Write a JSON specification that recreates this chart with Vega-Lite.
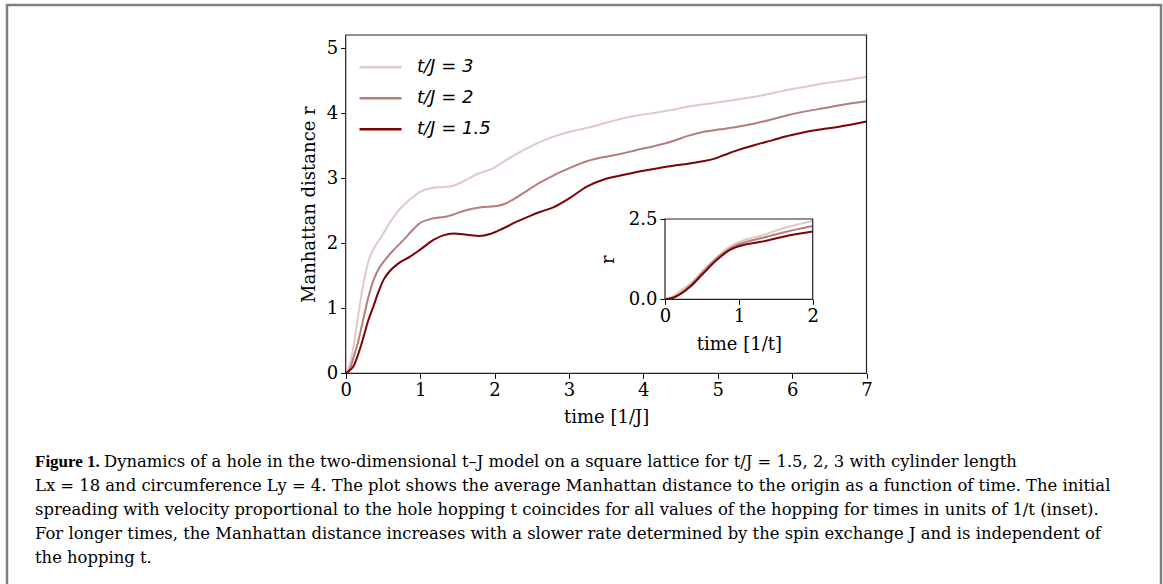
{
  "$schema": "https://vega.github.io/schema/vega-lite/v6.json",
  "width": 1163,
  "height": 584,
  "autosize": {"type": "none"},
  "padding": 0,
  "background": "white",
  "config": {
    "view": {"stroke": null},
    "axis": {
      "labelFont": "DejaVu Serif", "labelFontSize": 18, "labelColor": "black",
      "titleFont": "DejaVu Serif", "titleFontSize": 18, "titleFontWeight": "normal", "titleColor": "black",
      "tickColor": "black", "tickSize": 5, "tickWidth": 1, "domain": false, "grid": false, "labelPadding": 3,
      "labelFlush": false, "labelOverlap": false
    }
  },
  "datasets": {
    "main": [
      {"s": "t/J = 3", "t": 0, "r": 0}, {"s": "t/J = 3", "t": 0.05, "r": 0.12}, {"s": "t/J = 3", "t": 0.1, "r": 0.38}, {"s": "t/J = 3", "t": 0.15, "r": 0.75}, {"s": "t/J = 3", "t": 0.2, "r": 1.12}, {"s": "t/J = 3", "t": 0.25, "r": 1.45}, {"s": "t/J = 3", "t": 0.3, "r": 1.7}, {"s": "t/J = 3", "t": 0.37, "r": 1.9}, {"s": "t/J = 3", "t": 0.48, "r": 2.1}, {"s": "t/J = 3", "t": 0.6, "r": 2.33}, {"s": "t/J = 3", "t": 0.71, "r": 2.5}, {"s": "t/J = 3", "t": 0.86, "r": 2.67}, {"s": "t/J = 3", "t": 1, "r": 2.79}, {"s": "t/J = 3", "t": 1.13, "r": 2.84}, {"s": "t/J = 3", "t": 1.25, "r": 2.86}, {"s": "t/J = 3", "t": 1.4, "r": 2.87}, {"s": "t/J = 3", "t": 1.58, "r": 2.95}, {"s": "t/J = 3", "t": 1.76, "r": 3.06}, {"s": "t/J = 3", "t": 1.98, "r": 3.15}, {"s": "t/J = 3", "t": 2.16, "r": 3.28}, {"s": "t/J = 3", "t": 2.39, "r": 3.43}, {"s": "t/J = 3", "t": 2.6, "r": 3.55}, {"s": "t/J = 3", "t": 2.8, "r": 3.64}, {"s": "t/J = 3", "t": 3, "r": 3.71}, {"s": "t/J = 3", "t": 3.24, "r": 3.77}, {"s": "t/J = 3", "t": 3.5, "r": 3.85}, {"s": "t/J = 3", "t": 3.69, "r": 3.91}, {"s": "t/J = 3", "t": 3.9, "r": 3.96}, {"s": "t/J = 3", "t": 4.14, "r": 4.0}, {"s": "t/J = 3", "t": 4.4, "r": 4.05}, {"s": "t/J = 3", "t": 4.6, "r": 4.1}, {"s": "t/J = 3", "t": 4.85, "r": 4.14}, {"s": "t/J = 3", "t": 5.04, "r": 4.17}, {"s": "t/J = 3", "t": 5.27, "r": 4.21}, {"s": "t/J = 3", "t": 5.5, "r": 4.25}, {"s": "t/J = 3", "t": 5.75, "r": 4.31}, {"s": "t/J = 3", "t": 5.95, "r": 4.36}, {"s": "t/J = 3", "t": 6.2, "r": 4.41}, {"s": "t/J = 3", "t": 6.4, "r": 4.45}, {"s": "t/J = 3", "t": 6.7, "r": 4.5}, {"s": "t/J = 3", "t": 7, "r": 4.56},
      {"s": "t/J = 2", "t": 0, "r": 0}, {"s": "t/J = 2", "t": 0.05, "r": 0.05}, {"s": "t/J = 2", "t": 0.1, "r": 0.22}, {"s": "t/J = 2", "t": 0.17, "r": 0.5}, {"s": "t/J = 2", "t": 0.25, "r": 0.9}, {"s": "t/J = 2", "t": 0.3, "r": 1.15}, {"s": "t/J = 2", "t": 0.37, "r": 1.42}, {"s": "t/J = 2", "t": 0.44, "r": 1.6}, {"s": "t/J = 2", "t": 0.5, "r": 1.7}, {"s": "t/J = 2", "t": 0.64, "r": 1.89}, {"s": "t/J = 2", "t": 0.77, "r": 2.04}, {"s": "t/J = 2", "t": 0.89, "r": 2.19}, {"s": "t/J = 2", "t": 1, "r": 2.31}, {"s": "t/J = 2", "t": 1.13, "r": 2.37}, {"s": "t/J = 2", "t": 1.36, "r": 2.41}, {"s": "t/J = 2", "t": 1.63, "r": 2.51}, {"s": "t/J = 2", "t": 1.8, "r": 2.55}, {"s": "t/J = 2", "t": 2.03, "r": 2.57}, {"s": "t/J = 2", "t": 2.15, "r": 2.61}, {"s": "t/J = 2", "t": 2.25, "r": 2.67}, {"s": "t/J = 2", "t": 2.48, "r": 2.84}, {"s": "t/J = 2", "t": 2.61, "r": 2.93}, {"s": "t/J = 2", "t": 2.79, "r": 3.04}, {"s": "t/J = 2", "t": 3, "r": 3.15}, {"s": "t/J = 2", "t": 3.24, "r": 3.26}, {"s": "t/J = 2", "t": 3.45, "r": 3.32}, {"s": "t/J = 2", "t": 3.69, "r": 3.37}, {"s": "t/J = 2", "t": 3.9, "r": 3.43}, {"s": "t/J = 2", "t": 4.14, "r": 3.49}, {"s": "t/J = 2", "t": 4.4, "r": 3.57}, {"s": "t/J = 2", "t": 4.6, "r": 3.65}, {"s": "t/J = 2", "t": 4.8, "r": 3.71}, {"s": "t/J = 2", "t": 5.04, "r": 3.75}, {"s": "t/J = 2", "t": 5.27, "r": 3.79}, {"s": "t/J = 2", "t": 5.5, "r": 3.84}, {"s": "t/J = 2", "t": 5.75, "r": 3.91}, {"s": "t/J = 2", "t": 5.95, "r": 3.97}, {"s": "t/J = 2", "t": 6.2, "r": 4.03}, {"s": "t/J = 2", "t": 6.4, "r": 4.07}, {"s": "t/J = 2", "t": 6.7, "r": 4.13}, {"s": "t/J = 2", "t": 7, "r": 4.18},
      {"s": "t/J = 1.5", "t": 0, "r": 0}, {"s": "t/J = 1.5", "t": 0.05, "r": 0.04}, {"s": "t/J = 1.5", "t": 0.1, "r": 0.1}, {"s": "t/J = 1.5", "t": 0.17, "r": 0.3}, {"s": "t/J = 1.5", "t": 0.24, "r": 0.56}, {"s": "t/J = 1.5", "t": 0.3, "r": 0.8}, {"s": "t/J = 1.5", "t": 0.37, "r": 1.02}, {"s": "t/J = 1.5", "t": 0.44, "r": 1.25}, {"s": "t/J = 1.5", "t": 0.51, "r": 1.44}, {"s": "t/J = 1.5", "t": 0.6, "r": 1.58}, {"s": "t/J = 1.5", "t": 0.71, "r": 1.69}, {"s": "t/J = 1.5", "t": 0.86, "r": 1.79}, {"s": "t/J = 1.5", "t": 1, "r": 1.9}, {"s": "t/J = 1.5", "t": 1.18, "r": 2.05}, {"s": "t/J = 1.5", "t": 1.31, "r": 2.12}, {"s": "t/J = 1.5", "t": 1.45, "r": 2.15}, {"s": "t/J = 1.5", "t": 1.63, "r": 2.13}, {"s": "t/J = 1.5", "t": 1.8, "r": 2.11}, {"s": "t/J = 1.5", "t": 1.94, "r": 2.14}, {"s": "t/J = 1.5", "t": 2.12, "r": 2.23}, {"s": "t/J = 1.5", "t": 2.3, "r": 2.33}, {"s": "t/J = 1.5", "t": 2.48, "r": 2.42}, {"s": "t/J = 1.5", "t": 2.61, "r": 2.48}, {"s": "t/J = 1.5", "t": 2.79, "r": 2.55}, {"s": "t/J = 1.5", "t": 3.02, "r": 2.7}, {"s": "t/J = 1.5", "t": 3.24, "r": 2.87}, {"s": "t/J = 1.5", "t": 3.47, "r": 2.98}, {"s": "t/J = 1.5", "t": 3.69, "r": 3.04}, {"s": "t/J = 1.5", "t": 3.9, "r": 3.09}, {"s": "t/J = 1.5", "t": 4.14, "r": 3.14}, {"s": "t/J = 1.5", "t": 4.4, "r": 3.19}, {"s": "t/J = 1.5", "t": 4.6, "r": 3.22}, {"s": "t/J = 1.5", "t": 4.8, "r": 3.26}, {"s": "t/J = 1.5", "t": 4.96, "r": 3.3}, {"s": "t/J = 1.5", "t": 5.1, "r": 3.36}, {"s": "t/J = 1.5", "t": 5.27, "r": 3.43}, {"s": "t/J = 1.5", "t": 5.5, "r": 3.51}, {"s": "t/J = 1.5", "t": 5.73, "r": 3.58}, {"s": "t/J = 1.5", "t": 5.95, "r": 3.65}, {"s": "t/J = 1.5", "t": 6.18, "r": 3.71}, {"s": "t/J = 1.5", "t": 6.4, "r": 3.75}, {"s": "t/J = 1.5", "t": 6.63, "r": 3.79}, {"s": "t/J = 1.5", "t": 7, "r": 3.87}
    ],
    "inset": [
      {"s": "t/J = 3", "t": 0, "r": 0}, {"s": "t/J = 3", "t": 0.1, "r": 0.08}, {"s": "t/J = 3", "t": 0.2, "r": 0.25}, {"s": "t/J = 3", "t": 0.34, "r": 0.48}, {"s": "t/J = 3", "t": 0.52, "r": 0.91}, {"s": "t/J = 3", "t": 0.7, "r": 1.31}, {"s": "t/J = 3", "t": 0.88, "r": 1.65}, {"s": "t/J = 3", "t": 1.06, "r": 1.83}, {"s": "t/J = 3", "t": 1.3, "r": 1.98}, {"s": "t/J = 3", "t": 1.6, "r": 2.21}, {"s": "t/J = 3", "t": 2, "r": 2.44},
      {"s": "t/J = 2", "t": 0, "r": 0}, {"s": "t/J = 2", "t": 0.1, "r": 0.05}, {"s": "t/J = 2", "t": 0.2, "r": 0.17}, {"s": "t/J = 2", "t": 0.34, "r": 0.43}, {"s": "t/J = 2", "t": 0.52, "r": 0.86}, {"s": "t/J = 2", "t": 0.7, "r": 1.27}, {"s": "t/J = 2", "t": 0.88, "r": 1.58}, {"s": "t/J = 2", "t": 1.06, "r": 1.76}, {"s": "t/J = 2", "t": 1.3, "r": 1.9}, {"s": "t/J = 2", "t": 1.6, "r": 2.08}, {"s": "t/J = 2", "t": 2, "r": 2.28},
      {"s": "t/J = 1.5", "t": 0, "r": 0}, {"s": "t/J = 1.5", "t": 0.1, "r": 0.04}, {"s": "t/J = 1.5", "t": 0.16, "r": 0.1}, {"s": "t/J = 1.5", "t": 0.34, "r": 0.39}, {"s": "t/J = 1.5", "t": 0.52, "r": 0.81}, {"s": "t/J = 1.5", "t": 0.7, "r": 1.22}, {"s": "t/J = 1.5", "t": 0.88, "r": 1.54}, {"s": "t/J = 1.5", "t": 1.06, "r": 1.69}, {"s": "t/J = 1.5", "t": 1.3, "r": 1.79}, {"s": "t/J = 1.5", "t": 1.6, "r": 1.95}, {"s": "t/J = 1.5", "t": 2, "r": 2.11}
    ],
    "caption": [
      {"line": 1, "part": "bold", "text": "Figure 1."},
      {"line": 1, "part": "rest", "text": "Dynamics of a hole in the two-dimensional t–J model on a square lattice for t/J = 1.5, 2, 3 with cylinder length"},
      {"line": 2, "part": "body", "text": "Lx = 18 and circumference Ly = 4. The plot shows the average Manhattan distance to the origin as a function of time. The initial"},
      {"line": 3, "part": "body", "text": "spreading with velocity proportional to the hole hopping t coincides for all values of the hopping for times in units of 1/t (inset)."},
      {"line": 4, "part": "body", "text": "For longer times, the Manhattan distance increases with a slower rate determined by the spin exchange J and is independent of"},
      {"line": 5, "part": "body", "text": "the hopping t."}
    ]
  },
  "layer": [
    {
      "data": {"values": [{"k": 0}]},
      "mark": {"type": "rect", "fill": "transparent", "stroke": "#808080", "strokeWidth": 2.5},
      "encoding": {
        "x": {"datum": 0, "type": "quantitative", "scale": {"domain": [0, 1], "range": [7, 1161]}, "axis": null},
        "x2": {"datum": 1},
        "y": {"datum": 0, "type": "quantitative", "scale": {"domain": [0, 1], "range": [600, 5]}, "axis": null},
        "y2": {"datum": 1}
      }
    },
    {
      "data": {"name": "main"},
      "layer": [
        {
          "mark": {"type": "line", "strokeWidth": 2, "interpolate": "monotone"},
          "encoding": {
            "x": {"field": "t", "type": "quantitative", "scale": {"domain": [0, 7], "range": [345.7, 866.5], "nice": false, "zero": false},
                  "axis": {"orient": "bottom", "offset": -210.7, "values": [0, 1, 2, 3, 4, 5, 6, 7], "format": "d", "title": "time [1/J]", "titlePadding": 9}},
            "y": {"field": "r", "type": "quantitative", "scale": {"domain": [0, 5.2], "range": [373.3, 35], "nice": false, "zero": false},
                  "axis": {"orient": "left", "offset": -345.7, "values": [0, 1, 2, 3, 4, 5], "format": "d", "title": "Manhattan distance r", "titlePadding": 8}},
            "color": {"field": "s", "type": "nominal",
                      "scale": {"domain": ["t/J = 3", "t/J = 2", "t/J = 1.5"], "range": ["#e2c8c8", "#b67d7d", "#7b0303"]},
                      "legend": {"orient": "none", "legendX": 358, "legendY": 52, "title": null, "symbolType": "stroke", "symbolSize": 1764, "symbolStrokeWidth": 2.5, "labelFont": "DejaVu Sans", "labelFontSize": 18, "labelFontStyle": "italic", "labelColor": "black", "labelOffset": 14, "clipHeight": 30.7, "rowPadding": 0, "padding": 0}},
            "order": {"field": "s", "sort": "descending"}
          }
        },
        {
          "data": {"values": [{"k": 0}]},
          "mark": {"type": "rect", "fill": "transparent", "stroke": "#222222", "strokeWidth": 1.2},
          "encoding": {
            "x": {"datum": 0, "type": "quantitative"},
            "x2": {"datum": 7},
            "y": {"datum": 0, "type": "quantitative"},
            "y2": {"datum": 5.2}
          }
        }
      ]
    },
    {
      "data": {"name": "inset"},
      "layer": [
        {
          "mark": {"type": "line", "strokeWidth": 2, "interpolate": "monotone"},
          "encoding": {
            "x": {"field": "t", "type": "quantitative", "scale": {"domain": [0, 2], "range": [665, 812.7], "nice": false, "zero": false},
                  "axis": {"orient": "bottom", "offset": -284.7, "values": [0, 1, 2], "format": ".0f", "labelOverlap": false, "title": "time [1/t]", "titlePadding": 10}},
            "y": {"field": "r", "type": "quantitative", "scale": {"domain": [0, 2.5], "range": [299.3, 219], "nice": false, "zero": false},
                  "axis": {"orient": "left", "offset": -665, "values": [0, 2.5], "format": ".1f", "title": "r", "titlePadding": 11}},
            "color": {"field": "s", "type": "nominal", "legend": null}
          }
        },
        {
          "data": {"values": [{"k": 0}]},
          "mark": {"type": "rect", "fill": "transparent", "stroke": "#222222", "strokeWidth": 1.2},
          "encoding": {
            "x": {"datum": 0, "type": "quantitative"},
            "x2": {"datum": 2},
            "y": {"datum": 0, "type": "quantitative"},
            "y2": {"datum": 2.5}
          }
        }
      ]
    },
    {
      "data": {"name": "caption"},
      "encoding": {
        "x": {"datum": 0, "type": "quantitative", "scale": {"domain": [0, 1], "range": [35, 1135]}, "axis": null},
        "y": {"field": "line", "type": "quantitative", "scale": {"domain": [1, 5], "range": [462, 558]}, "axis": null},
        "text": {"field": "text"}
      },
      "layer": [
        {"transform": [{"filter": "datum.part == 'bold'"}], "mark": {"type": "text", "font": "Liberation Serif", "fontSize": 17, "fontWeight": "bold", "align": "left", "baseline": "middle", "color": "black"}},
        {"transform": [{"filter": "datum.part == 'rest'"}], "mark": {"type": "text", "font": "DejaVu Serif", "fontSize": 16.4, "align": "left", "baseline": "middle", "color": "black", "dx": 69}},
        {"transform": [{"filter": "datum.part == 'body'"}], "mark": {"type": "text", "font": "DejaVu Serif", "fontSize": 16.4, "align": "left", "baseline": "middle", "color": "black"}}
      ]
    }
  ],
  "resolve": {"scale": {"x": "independent", "y": "independent"}}
}
